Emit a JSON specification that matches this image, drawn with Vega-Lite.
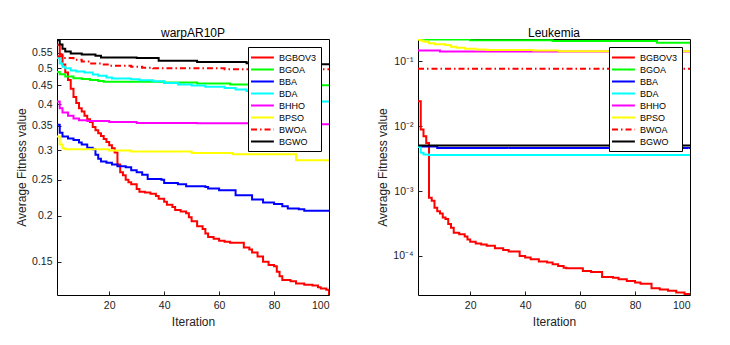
{
  "$schema": "https://vega.github.io/schema/vega-lite/v6.json",
  "background": "white",
  "padding": {"left": 15, "top": 26, "right": 5, "bottom": 5},
  "config": {
    "font": "Liberation Sans",
    "view": {"stroke": "black", "strokeWidth": 1},
    "axis": {
      "labelFont": "Liberation Sans", "labelFontSize": 10.5, "labelColor": "#222",
      "titleFont": "Liberation Sans", "titleFontSize": 12, "titleFontWeight": "normal", "titleColor": "#222",
      "domain": false, "grid": false, "tickColor": "#222", "tickSize": -4, "labelPadding": 9, "titlePadding": 3
    },
    "axisX": {"titlePadding": 6},
    "title": {"font": "Liberation Sans", "fontSize": 12, "fontWeight": "normal", "color": "black", "offset": -1},
    "legend": {
      "orient": "top-right", "offset": 8, "strokeColor": "black", "fillColor": "white",
      "padding": 4, "labelFont": "Liberation Sans", "labelFontSize": 9, "labelColor": "black",
      "symbolType": "M-1.36,0H2.8", "symbolSize": 121, "symbolStrokeWidth": 2,
      "labelOffset": 14, "rowPadding": 0, "cornerRadius": 0, "labelLimit": 100
    }
  },
  "datasets": {
    "warp": [
      {"s":"BGBOV3","i":1,"v":0.579},{"s":"BGBOV3","i":2,"v":0.545},{"s":"BGBOV3","i":3,"v":0.512},{"s":"BGBOV3","i":4,"v":0.487},{"s":"BGBOV3","i":5,"v":0.465},{"s":"BGBOV3","i":6,"v":0.44},{"s":"BGBOV3","i":7,"v":0.418},{"s":"BGBOV3","i":8,"v":0.403},{"s":"BGBOV3","i":9,"v":0.39},{"s":"BGBOV3","i":10,"v":0.382},{"s":"BGBOV3","i":11,"v":0.372},{"s":"BGBOV3","i":12,"v":0.364},{"s":"BGBOV3","i":13,"v":0.358},{"s":"BGBOV3","i":14,"v":0.347},{"s":"BGBOV3","i":15,"v":0.34},{"s":"BGBOV3","i":16,"v":0.334},{"s":"BGBOV3","i":17,"v":0.328},{"s":"BGBOV3","i":18,"v":0.322},{"s":"BGBOV3","i":19,"v":0.316},{"s":"BGBOV3","i":20,"v":0.31},{"s":"BGBOV3","i":21,"v":0.304},{"s":"BGBOV3","i":22,"v":0.296},{"s":"BGBOV3","i":23,"v":0.275},{"s":"BGBOV3","i":24,"v":0.262},{"s":"BGBOV3","i":25,"v":0.257},{"s":"BGBOV3","i":26,"v":0.25},{"s":"BGBOV3","i":27,"v":0.246},{"s":"BGBOV3","i":28,"v":0.243},{"s":"BGBOV3","i":30,"v":0.236},{"s":"BGBOV3","i":31,"v":0.232},{"s":"BGBOV3","i":33,"v":0.231},{"s":"BGBOV3","i":35,"v":0.229},{"s":"BGBOV3","i":37,"v":0.226},{"s":"BGBOV3","i":38,"v":0.222},{"s":"BGBOV3","i":40,"v":0.218},{"s":"BGBOV3","i":41,"v":0.214},{"s":"BGBOV3","i":43,"v":0.211},{"s":"BGBOV3","i":44,"v":0.207},{"s":"BGBOV3","i":46,"v":0.205},{"s":"BGBOV3","i":48,"v":0.203},{"s":"BGBOV3","i":49,"v":0.198},{"s":"BGBOV3","i":50,"v":0.193},{"s":"BGBOV3","i":52,"v":0.187},{"s":"BGBOV3","i":54,"v":0.184},{"s":"BGBOV3","i":55,"v":0.179},{"s":"BGBOV3","i":56,"v":0.175},{"s":"BGBOV3","i":58,"v":0.173},{"s":"BGBOV3","i":60,"v":0.171},{"s":"BGBOV3","i":62,"v":0.17},{"s":"BGBOV3","i":64,"v":0.169},{"s":"BGBOV3","i":69,"v":0.164},{"s":"BGBOV3","i":71,"v":0.162},{"s":"BGBOV3","i":72,"v":0.159},{"s":"BGBOV3","i":74,"v":0.155},{"s":"BGBOV3","i":76,"v":0.15},{"s":"BGBOV3","i":78,"v":0.147},{"s":"BGBOV3","i":80,"v":0.146},{"s":"BGBOV3","i":81,"v":0.141},{"s":"BGBOV3","i":82,"v":0.137},{"s":"BGBOV3","i":83,"v":0.134},{"s":"BGBOV3","i":86,"v":0.133},{"s":"BGBOV3","i":88,"v":0.131},{"s":"BGBOV3","i":91,"v":0.13},{"s":"BGBOV3","i":94,"v":0.1295},{"s":"BGBOV3","i":96,"v":0.128},{"s":"BGBOV3","i":97,"v":0.127},{"s":"BGBOV3","i":99,"v":0.126},{"s":"BGBOV3","i":100,"v":0.122},
      {"s":"BGOA","i":1,"v":0.489},{"s":"BGOA","i":2,"v":0.482},{"s":"BGOA","i":4,"v":0.475},{"s":"BGOA","i":7,"v":0.47},{"s":"BGOA","i":10,"v":0.468},{"s":"BGOA","i":13,"v":0.465},{"s":"BGOA","i":16,"v":0.462},{"s":"BGOA","i":18,"v":0.46},{"s":"BGOA","i":40,"v":0.458},{"s":"BGOA","i":52,"v":0.455},{"s":"BGOA","i":64,"v":0.452},{"s":"BGOA","i":80,"v":0.45},{"s":"BGOA","i":100,"v":0.45},
      {"s":"BBA","i":1,"v":0.352},{"s":"BBA","i":2,"v":0.335},{"s":"BBA","i":3,"v":0.327},{"s":"BBA","i":5,"v":0.323},{"s":"BBA","i":7,"v":0.32},{"s":"BBA","i":9,"v":0.315},{"s":"BBA","i":10,"v":0.311},{"s":"BBA","i":12,"v":0.305},{"s":"BBA","i":14,"v":0.302},{"s":"BBA","i":15,"v":0.292},{"s":"BBA","i":16,"v":0.285},{"s":"BBA","i":17,"v":0.28},{"s":"BBA","i":19,"v":0.278},{"s":"BBA","i":21,"v":0.275},{"s":"BBA","i":23,"v":0.272},{"s":"BBA","i":26,"v":0.27},{"s":"BBA","i":28,"v":0.265},{"s":"BBA","i":30,"v":0.262},{"s":"BBA","i":32,"v":0.258},{"s":"BBA","i":34,"v":0.251},{"s":"BBA","i":39,"v":0.25},{"s":"BBA","i":40,"v":0.245},{"s":"BBA","i":45,"v":0.243},{"s":"BBA","i":48,"v":0.24},{"s":"BBA","i":55,"v":0.239},{"s":"BBA","i":56,"v":0.2365},{"s":"BBA","i":60,"v":0.234},{"s":"BBA","i":66,"v":0.227},{"s":"BBA","i":72,"v":0.221},{"s":"BBA","i":76,"v":0.217},{"s":"BBA","i":80,"v":0.215},{"s":"BBA","i":83,"v":0.212},{"s":"BBA","i":85,"v":0.209},{"s":"BBA","i":89,"v":0.208},{"s":"BBA","i":91,"v":0.206},{"s":"BBA","i":100,"v":0.206},
      {"s":"BDA","i":1,"v":0.533},{"s":"BDA","i":2,"v":0.515},{"s":"BDA","i":3,"v":0.505},{"s":"BDA","i":4,"v":0.5},{"s":"BDA","i":6,"v":0.493},{"s":"BDA","i":8,"v":0.49},{"s":"BDA","i":11,"v":0.487},{"s":"BDA","i":14,"v":0.481},{"s":"BDA","i":16,"v":0.477},{"s":"BDA","i":19,"v":0.472},{"s":"BDA","i":21,"v":0.469},{"s":"BDA","i":28,"v":0.467},{"s":"BDA","i":31,"v":0.464},{"s":"BDA","i":36,"v":0.461},{"s":"BDA","i":40,"v":0.456},{"s":"BDA","i":45,"v":0.452},{"s":"BDA","i":50,"v":0.449},{"s":"BDA","i":55,"v":0.446},{"s":"BDA","i":62,"v":0.442},{"s":"BDA","i":66,"v":0.438},{"s":"BDA","i":70,"v":0.434},{"s":"BDA","i":75,"v":0.428},{"s":"BDA","i":80,"v":0.422},{"s":"BDA","i":85,"v":0.416},{"s":"BDA","i":90,"v":0.41},{"s":"BDA","i":95,"v":0.407},{"s":"BDA","i":100,"v":0.407},
      {"s":"BHHO","i":1,"v":0.407},{"s":"BHHO","i":2,"v":0.39},{"s":"BHHO","i":3,"v":0.38},{"s":"BHHO","i":5,"v":0.372},{"s":"BHHO","i":7,"v":0.366},{"s":"BHHO","i":9,"v":0.362},{"s":"BHHO","i":12,"v":0.36},{"s":"BHHO","i":20,"v":0.358},{"s":"BHHO","i":30,"v":0.356},{"s":"BHHO","i":52,"v":0.355},{"s":"BHHO","i":75,"v":0.353},{"s":"BHHO","i":100,"v":0.352},
      {"s":"BPSO","i":1,"v":0.327},{"s":"BPSO","i":2,"v":0.311},{"s":"BPSO","i":3,"v":0.304},{"s":"BPSO","i":4,"v":0.302},{"s":"BPSO","i":20,"v":0.3},{"s":"BPSO","i":28,"v":0.298},{"s":"BPSO","i":50,"v":0.295},{"s":"BPSO","i":65,"v":0.293},{"s":"BPSO","i":88,"v":0.282},{"s":"BPSO","i":100,"v":0.282},
      {"s":"BWOA","i":1,"v":0.539},{"s":"BWOA","i":3,"v":0.533},{"s":"BWOA","i":7,"v":0.527},{"s":"BWOA","i":10,"v":0.522},{"s":"BWOA","i":13,"v":0.515},{"s":"BWOA","i":17,"v":0.512},{"s":"BWOA","i":20,"v":0.508},{"s":"BWOA","i":28,"v":0.505},{"s":"BWOA","i":32,"v":0.502},{"s":"BWOA","i":36,"v":0.5},{"s":"BWOA","i":62,"v":0.497},{"s":"BWOA","i":100,"v":0.497},
      {"s":"BGWO","i":1,"v":0.595},{"s":"BGWO","i":2,"v":0.58},{"s":"BGWO","i":3,"v":0.565},{"s":"BGWO","i":4,"v":0.555},{"s":"BGWO","i":6,"v":0.548},{"s":"BGWO","i":10,"v":0.545},{"s":"BGWO","i":15,"v":0.541},{"s":"BGWO","i":17,"v":0.535},{"s":"BGWO","i":30,"v":0.533},{"s":"BGWO","i":38,"v":0.524},{"s":"BGWO","i":52,"v":0.52},{"s":"BGWO","i":70,"v":0.516},{"s":"BGWO","i":85,"v":0.513},{"s":"BGWO","i":100,"v":0.51}
    ],
    "leuk": [
      {"s":"BGBOV3","i":1,"v":0.0243},{"s":"BGBOV3","i":2,"v":0.0089},{"s":"BGBOV3","i":3,"v":0.007},{"s":"BGBOV3","i":4,"v":0.0055},{"s":"BGBOV3","i":5,"v":0.00079},{"s":"BGBOV3","i":6,"v":0.00071},{"s":"BGBOV3","i":7,"v":0.000555},{"s":"BGBOV3","i":8,"v":0.000487},{"s":"BGBOV3","i":9,"v":0.00045},{"s":"BGBOV3","i":10,"v":0.00039},{"s":"BGBOV3","i":11,"v":0.00037},{"s":"BGBOV3","i":12,"v":0.00031},{"s":"BGBOV3","i":13,"v":0.000273},{"s":"BGBOV3","i":14,"v":0.000228},{"s":"BGBOV3","i":16,"v":0.000216},{"s":"BGBOV3","i":18,"v":0.0002},{"s":"BGBOV3","i":19,"v":0.00018},{"s":"BGBOV3","i":20,"v":0.000166},{"s":"BGBOV3","i":22,"v":0.000156},{"s":"BGBOV3","i":24,"v":0.00015},{"s":"BGBOV3","i":26,"v":0.000143},{"s":"BGBOV3","i":29,"v":0.000131},{"s":"BGBOV3","i":32,"v":0.000124},{"s":"BGBOV3","i":34,"v":0.000117},{"s":"BGBOV3","i":38,"v":0.0001},{"s":"BGBOV3","i":40,"v":0.0000943},{"s":"BGBOV3","i":42,"v":0.0000888},{"s":"BGBOV3","i":45,"v":0.0000818},{"s":"BGBOV3","i":48,"v":0.0000789},{"s":"BGBOV3","i":50,"v":0.0000743},{"s":"BGBOV3","i":52,"v":0.00007},{"s":"BGBOV3","i":54,"v":0.000066},{"s":"BGBOV3","i":55,"v":0.0000645},{"s":"BGBOV3","i":61,"v":0.0000587},{"s":"BGBOV3","i":64,"v":0.0000566},{"s":"BGBOV3","i":68,"v":0.0000473},{"s":"BGBOV3","i":72,"v":0.0000463},{"s":"BGBOV3","i":74,"v":0.0000436},{"s":"BGBOV3","i":77,"v":0.0000411},{"s":"BGBOV3","i":80,"v":0.0000388},{"s":"BGBOV3","i":82,"v":0.0000374},{"s":"BGBOV3","i":86,"v":0.0000318},{"s":"BGBOV3","i":89,"v":0.0000304},{"s":"BGBOV3","i":92,"v":0.000029},{"s":"BGBOV3","i":95,"v":0.0000274},{"s":"BGBOV3","i":98,"v":0.0000259},{"s":"BGBOV3","i":100,"v":0.0000253},
      {"s":"BGOA","i":1,"v":0.218},{"s":"BGOA","i":20,"v":0.212},{"s":"BGOA","i":50,"v":0.205},{"s":"BGOA","i":88,"v":0.193},{"s":"BGOA","i":100,"v":0.193},
      {"s":"BBA","i":1,"v":0.00485},{"s":"BBA","i":8,"v":0.0046},{"s":"BBA","i":100,"v":0.0046},
      {"s":"BDA","i":1,"v":0.0048},{"s":"BDA","i":2,"v":0.0039},{"s":"BDA","i":3,"v":0.00366},{"s":"BDA","i":5,"v":0.0036},{"s":"BDA","i":100,"v":0.0036},
      {"s":"BHHO","i":1,"v":0.1475},{"s":"BHHO","i":9,"v":0.142},{"s":"BHHO","i":100,"v":0.142},
      {"s":"BPSO","i":1,"v":0.218},{"s":"BPSO","i":2,"v":0.21},{"s":"BPSO","i":3,"v":0.2},{"s":"BPSO","i":5,"v":0.19},{"s":"BPSO","i":7,"v":0.183},{"s":"BPSO","i":11,"v":0.178},{"s":"BPSO","i":13,"v":0.168},{"s":"BPSO","i":15,"v":0.162},{"s":"BPSO","i":18,"v":0.156},{"s":"BPSO","i":22,"v":0.152},{"s":"BPSO","i":26,"v":0.149},{"s":"BPSO","i":43,"v":0.147},{"s":"BPSO","i":52,"v":0.143},{"s":"BPSO","i":100,"v":0.143},
      {"s":"BWOA","i":1,"v":0.077},{"s":"BWOA","i":100,"v":0.077},
      {"s":"BGWO","i":1,"v":0.00505},{"s":"BGWO","i":100,"v":0.00505}
    ]
  },
  "spacing": 46,
  "resolve": {"legend": {"color": "independent", "strokeDash": "independent"}},
  "hconcat": [
    {
      "title": "warpAR10P",
      "width": 272, "height": 256,
      "data": {"name": "warp"},
      "mark": {"type": "line", "strokeWidth": 2, "interpolate": "step-after", "clip": true},
      "encoding": {
        "x": {"field": "i", "type": "quantitative", "scale": {"domain": [1, 100], "nice": false}, "axis": {"values": [20, 40, 60, 80, 100], "title": "Iteration"}},
        "y": {"field": "v", "type": "quantitative", "scale": {"type": "log", "domain": [0.122, 0.6], "nice": false}, "axis": {"values": [0.15, 0.2, 0.25, 0.3, 0.35, 0.4, 0.45, 0.5, 0.55], "format": ".2~f", "title": "Average Fitness value"}},
        "color": {"field": "s", "type": "nominal", "scale": {"domain": ["BGBOV3","BGOA","BBA","BDA","BHHO","BPSO","BWOA","BGWO"], "range": ["#ff0000","#00ff00","#0000ff","#00ffff","#ff00ff","#ffff00","#ff0000","#000000"]}, "legend": {"title": null}},
        "strokeDash": {"field": "s", "type": "nominal", "scale": {"domain": ["BGBOV3","BGOA","BBA","BDA","BHHO","BPSO","BWOA","BGWO"], "range": [[1,0],[1,0],[1,0],[1,0],[1,0],[1,0],[6,3,1.5,3],[1,0]]}, "legend": {"title": null}}
      }
    },
    {
      "title": "Leukemia",
      "width": 272, "height": 256,
      "data": {"name": "leuk"},
      "mark": {"type": "line", "strokeWidth": 2, "interpolate": "step-after", "clip": true},
      "encoding": {
        "x": {"field": "i", "type": "quantitative", "scale": {"domain": [1, 100], "nice": false}, "axis": {"values": [20, 40, 60, 80, 100], "title": "Iteration"}},
        "y": {"field": "v", "type": "quantitative", "scale": {"type": "log", "domain": [0.000025, 0.221], "nice": false}, "axis": {"values": [0.0001, 0.001, 0.01, 0.1], "labelExpr": "datum.value < 0.0005 ? '10⁻⁴' : datum.value < 0.005 ? '10⁻³' : datum.value < 0.05 ? '10⁻²' : '10⁻¹'", "title": "Average Fitness value"}},
        "color": {"field": "s", "type": "nominal", "scale": {"domain": ["BGBOV3","BGOA","BBA","BDA","BHHO","BPSO","BWOA","BGWO"], "range": ["#ff0000","#00ff00","#0000ff","#00ffff","#ff00ff","#ffff00","#ff0000","#000000"]}, "legend": {"title": null}},
        "strokeDash": {"field": "s", "type": "nominal", "scale": {"domain": ["BGBOV3","BGOA","BBA","BDA","BHHO","BPSO","BWOA","BGWO"], "range": [[1,0],[1,0],[1,0],[1,0],[1,0],[1,0],[6,3,1.5,3],[1,0]]}, "legend": {"title": null}}
      }
    }
  ]
}
